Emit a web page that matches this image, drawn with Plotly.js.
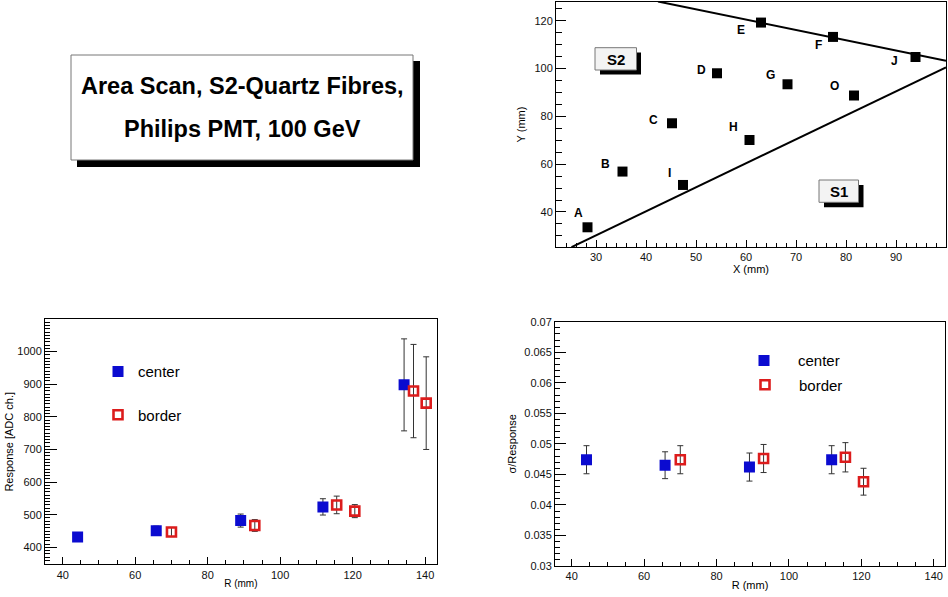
<!DOCTYPE html>
<html>
<head>
<meta charset="utf-8">
<script src="https://cdn.plot.ly/plotly-3.0.1.min.js"></script>
<style>
  html, body { margin: 0; padding: 0; background: #fff; }
  #chart { width: 948px; height: 597px; }
</style>
</head>
<body>
<div id="chart"></div>
<script>
// ---- scan positions on the module face (mm) ----
const pointNames = ['A', 'B', 'C', 'D', 'E', 'F', 'G', 'H', 'I', 'J', 'O'];
const pointX = [28.3, 35.3, 45.2, 54.2, 63.0, 77.4, 68.3, 60.7, 47.4, 93.9, 81.6];
const pointY = [33.6, 56.9, 77.1, 98.0, 119.2, 113.2, 93.4, 70.1, 51.3, 104.8, 88.7];
// label offsets from each point, in pixels
const labelShiftX = [-9, -17, -19, -16, -20, -15, -17, -16, -14, -21, -20];
const labelShiftY = [14, 8, 3, 3, -7, -8, 9, 13, 12, -4, 10];

// edges of the S2 sector
const upperEdgeX = [42.4, 100];
const upperEdgeY = [128, 103.2];
const lowerEdgeX = [25.1, 100];
const lowerEdgeY = [25.3, 100.5];

// ---- response vs radius ----
const centerR = [44.1, 65.8, 89.1, 111.8, 134.2];
const centerResp = [432, 451, 482, 524, 898];
const centerRespErr = [12, 14, 20, 25, 141];

const borderR = [70.0, 93.0, 115.6, 120.6, 136.8, 140.3];
const borderResp = [447, 467, 530, 511, 879, 842];
const borderRespErr = [14, 18, 27, 20, 143, 142];

// ---- relative resolution vs radius ----
const centerResR = [44.1, 65.8, 89.1, 111.8];
const centerRes = [0.0474, 0.0465, 0.0462, 0.0474];
const centerResErr = [0.0023, 0.0022, 0.0023, 0.0023];

const borderResR = [70.0, 93.0, 115.6, 120.6];
const borderRes = [0.0474, 0.0476, 0.0478, 0.0438];
const borderResErr = [0.0023, 0.0023, 0.0024, 0.0022];

const FONT = 'Liberation Sans, Arial, Helvetica, sans-serif';
const BLUE = '#0b0bd0';
const RED = '#dc1c1c';
const W = 948, H = 597;
const px = v => v / W;
const py = v => 1 - v / H;

const errStyle = arr => ({ type: 'data', array: arr, visible: true, color: '#333', thickness: 1, width: 3 });

const traces = [
  // sector edges
  { x: upperEdgeX, y: upperEdgeY, xaxis: 'x', yaxis: 'y', mode: 'lines',
    line: { color: '#000', width: 2 }, showlegend: false, hoverinfo: 'skip' },
  { x: lowerEdgeX, y: lowerEdgeY, xaxis: 'x', yaxis: 'y', mode: 'lines',
    line: { color: '#000', width: 2 }, showlegend: false, hoverinfo: 'skip' },
  // scan points
  { x: pointX, y: pointY, text: pointNames, xaxis: 'x', yaxis: 'y', mode: 'markers',
    marker: { symbol: 'square', size: 10, color: '#000' }, showlegend: false },

  // response
  { x: centerR, y: centerResp, xaxis: 'x2', yaxis: 'y2', mode: 'markers', name: 'center',
    marker: { symbol: 'square', size: 11, color: BLUE },
    error_y: errStyle(centerRespErr), legend: 'legend' },
  { x: borderR, y: borderResp, xaxis: 'x2', yaxis: 'y2', mode: 'markers', name: 'border',
    marker: { symbol: 'square-open', size: 9, color: RED, line: { width: 2.6, color: RED } },
    error_y: errStyle(borderRespErr), legend: 'legend2' },

  // resolution
  { x: centerResR, y: centerRes, xaxis: 'x3', yaxis: 'y3', mode: 'markers', name: 'center',
    marker: { symbol: 'square', size: 11, color: BLUE },
    error_y: errStyle(centerResErr), legend: 'legend3' },
  { x: borderResR, y: borderRes, xaxis: 'x3', yaxis: 'y3', mode: 'markers', name: 'border',
    marker: { symbol: 'square-open', size: 9, color: RED, line: { width: 2.6, color: RED } },
    error_y: errStyle(borderResErr), legend: 'legend4' }
];

function axis(extra) {
  return Object.assign({
    showline: true, mirror: true, linecolor: '#000', linewidth: 1,
    ticks: 'inside', tickcolor: '#000', tickwidth: 1,
    showgrid: false, zeroline: false, fixedrange: true,
    tickfont: { family: FONT, size: 11, color: '#111' }
  }, extra);
}
function minor(dtick, len) {
  return { dtick: dtick, ticks: 'inside', ticklen: len, tickcolor: '#000', tickwidth: 1, showgrid: false };
}
function legendAt(x, y) {
  return {
    x: x, y: y, xanchor: 'left', yanchor: 'middle', xref: 'paper', yref: 'paper',
    bgcolor: 'rgba(0,0,0,0)', borderwidth: 0, font: { family: FONT, size: 15, color: '#000' },
    itemclick: false, itemdoubleclick: false
  };
}
function paperText(x, y, text, size) {
  return { xref: 'paper', yref: 'paper', x: px(x), y: py(y), xanchor: 'center', yanchor: 'middle',
    text: text, showarrow: false, font: { family: FONT, size: size, color: '#000', weight: 'bold' } };
}

const layout = {
  width: W, height: H,
  margin: { l: 0, r: 0, t: 0, b: 0 },
  paper_bgcolor: '#fff', plot_bgcolor: '#fff',
  font: { family: FONT, size: 11, color: '#000' },
  showlegend: true,

  xaxis: axis({ domain: [px(556), px(946)], range: [22, 100], anchor: 'y',
    tick0: 0, dtick: 10, ticklen: 7, minor: minor(2, 4),
    title: { text: 'X (mm)', font: { family: FONT, size: 11 }, standoff: 2 } }),
  yaxis: axis({ domain: [py(247), py(2)], range: [25.36, 127.8], anchor: 'x',
    tick0: 0, dtick: 20, ticklen: 10, minor: minor(5, 6),
    title: { text: 'Y (mm)', font: { family: FONT, size: 11 }, standoff: 6 } }),

  xaxis2: axis({ domain: [px(45), px(436.7)], range: [35.1, 143.2], anchor: 'y2',
    tick0: 0, dtick: 20, ticklen: 7, minor: minor(5, 4),
    title: { text: 'R (mm)', font: { family: FONT, size: 10 }, standoff: 0 } }),
  yaxis2: axis({ domain: [py(564.3), py(319.3)], range: [348, 1099], anchor: 'x2',
    tick0: 0, dtick: 100, ticklen: 12, minor: minor(10, 5),
    title: { text: 'Response [ADC ch.]', font: { family: FONT, size: 11 }, standoff: 1 } }),

  xaxis3: axis({ domain: [px(555), px(945)], range: [35.4, 143.1], anchor: 'y3',
    tick0: 0, dtick: 20, ticklen: 7, minor: minor(5, 4),
    title: { text: 'R (mm)', font: { family: FONT, size: 11 }, standoff: 0 } }),
  yaxis3: axis({ domain: [py(566), py(321.7)], range: [0.02999, 0.07001], anchor: 'x3',
    tick0: 0, dtick: 0.005, ticklen: 11, minor: minor(0.001, 5),
    title: { text: 'σ/Response', font: { family: FONT, size: 11 }, standoff: 5 } }),

  legend: legendAt(px(98), py(371.7)),
  legend2: legendAt(px(98), py(415)),
  legend3: Object.assign(legendAt(px(730), py(360.7)), { itemwidth: 58 }),
  legend4: Object.assign(legendAt(px(731), py(385)), { itemwidth: 58 }),

  shapes: [
    // title pave with its shadow
    { type: 'rect', xref: 'paper', yref: 'paper', x0: px(77), x1: px(420), y0: py(167), y1: py(61),
      fillcolor: '#000', line: { width: 0 }, layer: 'above' },
    { type: 'rect', xref: 'paper', yref: 'paper', x0: px(71), x1: px(413), y0: py(160), y1: py(55),
      fillcolor: '#fff', line: { color: '#777', width: 1 }, layer: 'above' },
    // S2 pave
    { type: 'rect', xref: 'paper', yref: 'paper', x0: px(600), x1: px(641), y0: py(74.5), y1: py(52.5),
      fillcolor: '#000', line: { width: 0 }, layer: 'above' },
    { type: 'rect', xref: 'paper', yref: 'paper', x0: px(595), x1: px(636.5), y0: py(70), y1: py(47.7),
      fillcolor: '#f3f3f3', line: { color: '#777', width: 1 }, layer: 'above' },
    // S1 pave
    { type: 'rect', xref: 'paper', yref: 'paper', x0: px(824), x1: px(863.5), y0: py(207.3), y1: py(185),
      fillcolor: '#000', line: { width: 0 }, layer: 'above' },
    { type: 'rect', xref: 'paper', yref: 'paper', x0: px(819), x1: px(858.5), y0: py(202.3), y1: py(180),
      fillcolor: '#f3f3f3', line: { color: '#777', width: 1 }, layer: 'above' }
  ],

  annotations: []
};

// point labels
pointNames.forEach((n, i) => {
  layout.annotations.push({
    xref: 'x', yref: 'y', x: pointX[i], y: pointY[i], text: n, showarrow: false,
    xanchor: 'center', yanchor: 'middle',
    xshift: labelShiftX[i], yshift: labelShiftY[i],
    font: { family: FONT, size: 12, color: '#000', weight: 'bold' }
  });
});

// pave texts
layout.annotations.push(
  paperText(242, 86, 'Area Scan, S2-Quartz Fibres,', 23.5),
  paperText(242, 129.5, 'Philips PMT, 100 GeV', 23.5),
  paperText(616, 59.5, 'S2', 15),
  paperText(839, 191.5, 'S1', 15)
);

Plotly.newPlot('chart', traces, layout, { displayModeBar: false, staticPlot: true });
</script>
</body>
</html>
